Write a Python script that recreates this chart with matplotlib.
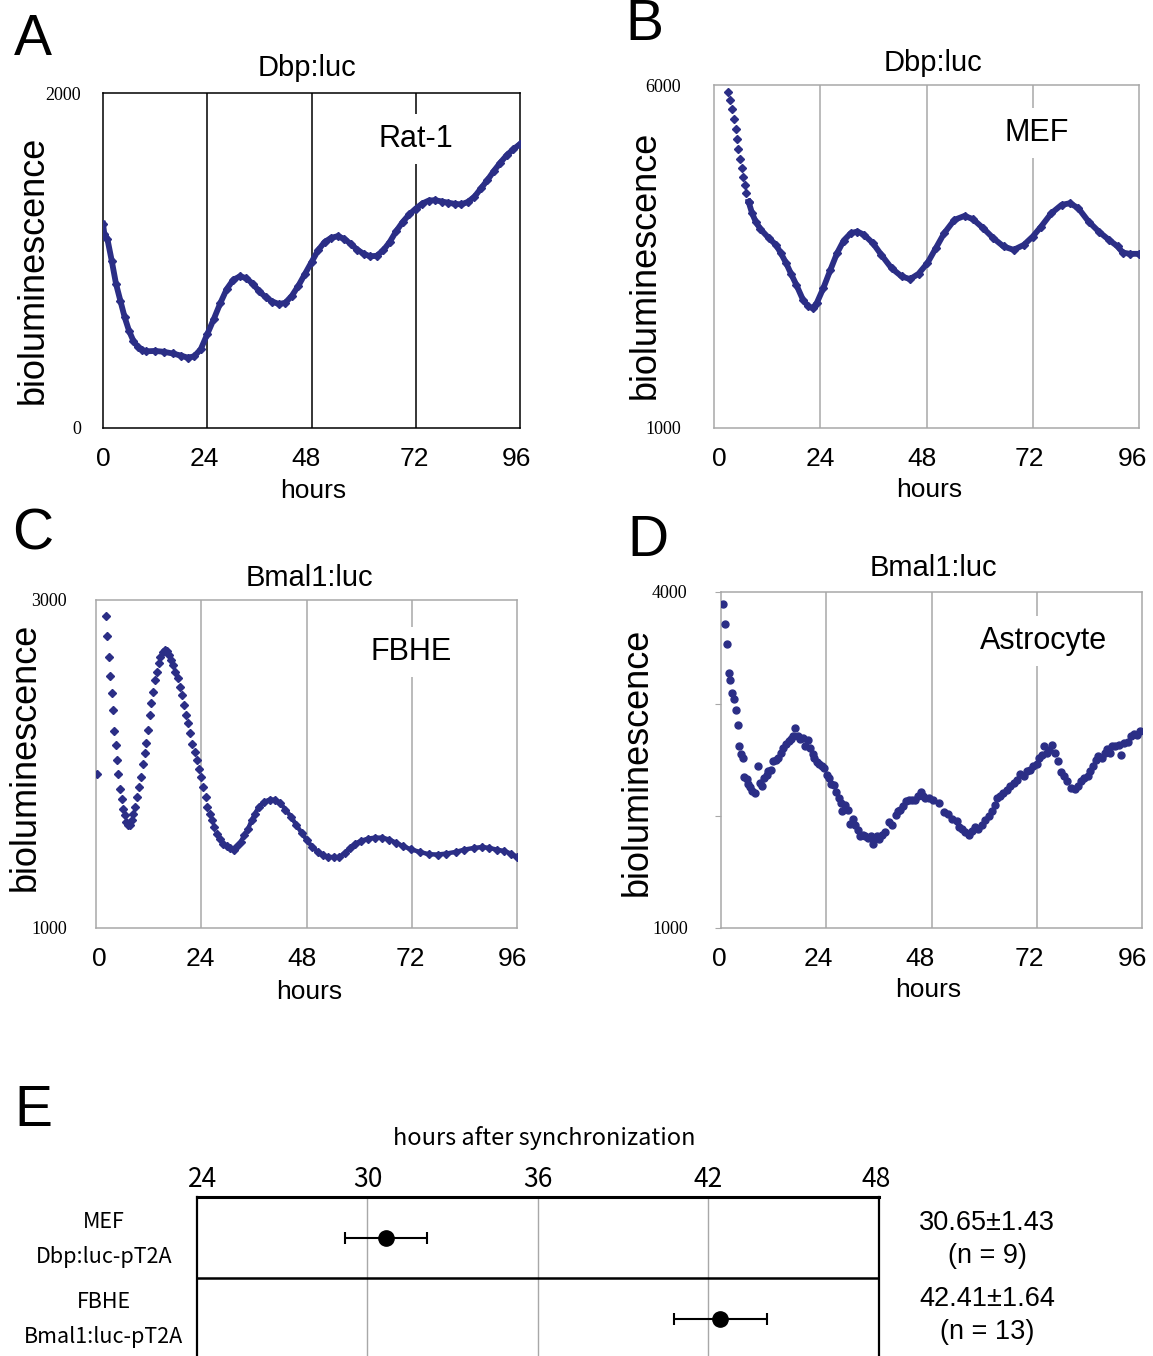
import matplotlib.pyplot as plt
from matplotlib.transforms import ScaledTranslation

# ---- data ----
# A: Dbp:luc in Rat-1
a_hours = [0, 0.3, 1, 2, 3, 4, 5, 6, 7, 8, 9, 10, 12, 14, 16, 18, 19.5, 21, 22.5, 24,
           25.5, 27, 28.5, 30, 31.5, 33, 34.5, 36, 37.5, 39, 40.5, 42, 43.5, 45, 46.5, 48,
           49.5, 51, 52.5, 54, 55.5, 57, 58.5, 60, 61.5, 63, 64.5, 66, 67.5, 69, 70.5, 72,
           73.5, 75, 76.5, 78, 79.5, 81, 82.5, 84, 85.5, 87, 88.5, 90, 91.5, 93, 94.5, 96]
a_lum = [1220, 1160, 1130, 1000, 860, 760, 660, 580, 520, 485, 465, 458, 460, 455, 445, 432,
         420, 428, 470, 560, 650, 745, 830, 885, 905, 895, 860, 815, 780, 755, 740, 748,
         790, 850, 920, 990, 1060, 1110, 1135, 1145, 1130, 1100, 1065, 1040, 1025, 1028,
         1060, 1110, 1175, 1230, 1275, 1310, 1340, 1358, 1360, 1352, 1345, 1338, 1335,
         1350, 1380, 1430, 1480, 1535, 1585, 1630, 1665, 1695]

# B: Dbp:luc in MEF
b_hours = [3.2, 3.6, 4.0, 4.5, 4.9, 5.2, 5.5, 5.9, 6.3, 6.6, 7.0, 7.3, 7.8, 8.6, 9.4, 10.5,
           12.4, 14.0, 15.1, 16.3, 17.4, 18.6, 20.1, 21.3, 22.3, 23.2, 24.7, 26.3, 27.8,
           29.3, 30.9, 32.4, 33.9, 35.9, 37.8, 40.1, 42.4, 44.3, 46.2, 48.2, 50.1, 52.0,
           54.3, 56.6, 58.5, 60.8, 63.1, 65.4, 67.7, 70.0, 72.0, 73.9, 76.2, 78.5, 80.4,
           82.3, 84.6, 86.9, 89.2, 91.2, 92.3, 93.9, 96]
b_lum = [5903, 5782, 5650, 5505, 5359, 5209, 5063, 4922, 4786, 4655, 4544, 4432, 4301, 4131,
         4010, 3898, 3767, 3670, 3549, 3403, 3248, 3087, 2869, 2772, 2748, 2820, 3039, 3306,
         3549, 3733, 3840, 3864, 3816, 3694, 3524, 3330, 3209, 3170, 3248, 3403, 3621, 3840,
         4034, 4092, 4044, 3913, 3767, 3646, 3597, 3670, 3791, 3937, 4131, 4252, 4277, 4204,
         4010, 3864, 3743, 3646, 3558, 3539, 3539]

# C: Bmal1:luc in FBHE
c_hours = [0.16, 2.2, 2.6, 3.0, 3.3, 3.6, 3.9, 4.2, 4.5, 4.7, 5.1, 5.5, 5.9, 6.2, 6.5, 6.9,
           7.3, 7.7, 8.2, 8.5, 8.8, 9.3, 9.8, 10.3, 10.7, 11.1, 11.4, 11.8, 12.2, 12.6, 13.0,
           13.5, 13.9, 14.3, 14.7, 15.2, 15.7, 16.2, 16.6, 17.1, 17.6, 18.1, 18.6, 19.1,
           19.6, 20.1, 20.6, 21.0, 21.5, 22.0, 22.5, 23.0, 23.5, 24.0, 24.5, 25.0, 25.4,
           25.9, 26.4, 26.9, 27.6, 28.2, 29.0, 29.8, 30.6, 31.4, 32.2, 33.0, 33.8, 34.7,
           35.5, 36.3, 37.1, 38.3, 39.6, 40.8, 42.0, 43.2, 44.5, 45.7, 46.9, 48.1, 49.3,
           50.6, 51.8, 53.0, 54.2, 55.5, 56.7, 57.9, 59.1, 60.4, 62.0, 63.6, 65.3, 66.9,
           68.5, 70.1, 71.8, 73.8, 75.9, 77.9, 79.9, 82.0, 84.0, 86.1, 88.1, 89.7, 91.4,
           93.0, 94.6, 96.0]
c_lum = [1942, 2904, 2780, 2654, 2534, 2432, 2327, 2202, 2113, 2023, 1938, 1848, 1789, 1728,
         1688, 1647, 1627, 1631, 1661, 1698, 1739, 1800, 1861, 1922, 2003, 2068, 2129, 2207,
         2298, 2369, 2440, 2512, 2563, 2613, 2654, 2685, 2695, 2687, 2664, 2634, 2603, 2563,
         2522, 2471, 2420, 2359, 2298, 2247, 2186, 2125, 2074, 2023, 1972, 1922, 1861, 1800,
         1739, 1698, 1657, 1617, 1576, 1545, 1515, 1498, 1488, 1478, 1498, 1525, 1566, 1606,
         1657, 1698, 1739, 1769, 1783, 1783, 1763, 1722, 1678, 1627, 1580, 1535, 1494, 1464,
         1444, 1433, 1433, 1433, 1458, 1488, 1515, 1531, 1545, 1551, 1551, 1539, 1519, 1498,
         1480, 1464, 1450, 1448, 1454, 1464, 1478, 1488, 1494, 1488, 1478, 1470, 1454, 1433]

# D: Bmal1:luc in astrocytes
d_hours = [0.53, 0.91, 1.30, 1.75, 2.13, 2.59, 2.97, 3.35, 3.81, 4.11, 4.57, 5.03, 5.33,
           5.87, 6.25, 6.70, 7.16, 7.77, 8.38, 8.91, 9.45, 9.90, 10.4, 10.8, 11.35, 11.96,
           12.5, 13.1, 13.7, 14.25, 14.8, 15.4, 16.0, 16.5, 16.9, 17.45, 18.06, 18.6, 19.2,
           19.8, 20.3, 20.9, 21.3, 21.9, 22.4, 23.0, 23.6, 24.15, 24.7, 25.1, 25.7, 26.2,
           26.8, 27.3, 27.7, 28.3, 28.95, 29.5, 30.0, 30.6, 31.2, 31.8, 32.3, 32.9, 33.5,
           34.1, 34.6, 35.0, 35.6, 36.1, 36.7, 37.5, 38.2, 39.0, 39.8, 40.4, 40.9, 41.4,
           42.1, 42.8, 43.6, 44.3, 45.0, 45.5, 46.0, 46.6, 47.4, 48.3, 49.7, 50.8, 51.8,
           52.7, 53.8, 54.2, 55.0, 55.7, 56.5, 57.2, 58.0, 58.7, 59.5, 60.3, 61.0, 61.8,
           62.4, 62.9, 63.7, 64.4, 65.2, 65.9, 66.7, 67.5, 68.2, 69.0, 69.7, 70.5, 71.2,
           72.0, 72.5, 73.1, 73.7, 74.3, 74.8, 75.4, 76.2, 76.9, 77.5, 78.3, 79.0, 79.8,
           80.7, 81.5, 82.1, 82.8, 83.6, 84.1, 84.9, 85.4, 86.0, 86.8, 87.5, 88.1, 88.7,
           89.2, 89.9, 90.7, 91.3, 91.9, 92.7, 93.4, 94.2, 94.9, 95.5]
d_lum = [3896, 3717, 3539, 3280, 3211, 3098, 3045, 2943, 2815, 2628, 2557, 2518, 2348, 2330,
         2289, 2259, 2220, 2205, 2443, 2295, 2265, 2339, 2369, 2399, 2414, 2488, 2503, 2518,
         2563, 2607, 2646, 2667, 2688, 2711, 2786, 2711, 2688, 2696, 2622, 2682, 2607, 2557,
         2518, 2479, 2467, 2443, 2429, 2369, 2339, 2289, 2280, 2211, 2161, 2116, 2042, 2101,
         2057, 1932, 1973, 1923, 1878, 1818, 1833, 1824, 1804, 1818, 1753, 1804, 1818, 1795,
         1833, 1854, 1943, 1923, 2012, 2042, 2057, 2086, 2131, 2140, 2146, 2140, 2176, 2211,
         2176, 2161, 2161, 2146, 2116, 2033, 2021, 1973, 1952, 1902, 1884, 1854, 1833, 1863,
         1902, 1884, 1923, 1967, 1997, 2042, 2101, 2161, 2182, 2205, 2235, 2265, 2295, 2324,
         2378, 2354, 2399, 2414, 2443, 2467, 2518, 2548, 2622, 2563, 2592, 2637, 2563, 2488,
         2390, 2354, 2310, 2250, 2241, 2265, 2310, 2339, 2354, 2399, 2443, 2503, 2533, 2518,
         2563, 2598, 2563, 2622, 2628, 2637, 2548, 2652, 2658, 2711, 2735, 2726, 2756]

# E: peak times after synchronization
e_rows = ["MEF\nDbp:luc-pT2A", "FBHE\nBmal1:luc-pT2A"]
e_mean = [30.65, 42.41]
e_sem = [1.43, 1.64]
e_n = [9, 13]

hour_ticks = [0, 24, 48, 72, 96]
e_ticks = [24, 30, 36, 42, 48]

NAVY = '#2b2e86'
GRAY = '#a8a8a8'
SANS = 'Liberation Sans'
SERIF = 'Liberation Serif'
JP = 'Noto Sans CJK JP'

W, H = 1153, 1356
fig = plt.figure(figsize=(W / 100, H / 100), dpi=100)


def px_axes(l, t, r, b):
    return fig.add_axes([l / W, 1 - b / H, (r - l) / W, (b - t) / H])


def ftext(x, y, s, va='center', **kw):
    fig.text(x / W, 1 - y / H, s, ha='center', va=va, **kw)


def nudge_xlabels(ax, offsets):
    # the hour labels in the original sit a few pixels off their ticks
    for lab, dx in zip(ax.get_xticklabels(), offsets):
        lab.set_transform(lab.get_transform() + ScaledTranslation(dx / 100, 0, fig.dpi_scale_trans))


def trace_panel(box, ylim, line_col, ypad, cell, cell_xy, offsets):
    ax = px_axes(*box)
    ax.set_xlim(0, 96)
    ax.set_ylim(*ylim)
    ax.set_xticks(hour_ticks)
    ax.set_xticklabels([str(h) for h in hour_ticks], fontsize=19, family=SANS)
    ax.set_yticks(list(ylim))
    ax.set_yticklabels([str(v) for v in ylim], fontsize=13, family=SERIF)
    ax.tick_params(axis='x', length=0, pad=14)
    ax.tick_params(axis='y', length=0, pad=ypad)
    for h in (24, 48, 72):
        ax.axvline(h, color=line_col, lw=1.1, zorder=0)
    for s in ax.spines.values():
        s.set_color(line_col)
        s.set_linewidth(1.1)
    ax.text(cell_xy[0], cell_xy[1], cell, transform=ax.transAxes, ha='center', va='center',
            fontsize=22, family=SANS, zorder=1,
            bbox=dict(facecolor='white', edgecolor='none', pad=7))
    nudge_xlabels(ax, offsets)
    return ax


# panel A
axA = trace_panel((103, 93, 520, 428), (0, 2000), 'black', 16, 'Rat-1', (0.75, 0.863),
                  [0, -3, -5, -1, -4])
axA.plot(a_hours, a_lum, color=NAVY, lw=4.2, marker='D', ms=4.5, zorder=3)

# panel B
axB = trace_panel((714, 85, 1139, 428), (1000, 6000), GRAY, 24, 'MEF', (0.76, 0.86),
                  [5, 0, -5, -3, -7])
axB.plot(b_hours[:13], b_lum[:13], ls='none', color=NAVY, marker='D', ms=4.5, zorder=3)
axB.plot(b_hours[12:], b_lum[12:], color=NAVY, lw=4.2, marker='D', ms=4.5, zorder=3)

# panel C
axC = trace_panel((96, 600, 517, 928), (1000, 3000), GRAY, 21, 'FBHE', (0.748, 0.841),
                  [3, -1, -4, -1, -5])
axC.plot(c_hours[60:], c_lum[60:], color=NAVY, lw=3.2, zorder=3)
axC.plot(c_hours, c_lum, ls='none', color=NAVY, marker='D', ms=4, zorder=3)

# panel D
axD = trace_panel((721, 592, 1142, 928), (1000, 4000), GRAY, 24, 'Astrocyte', (0.765, 0.854),
                  [-2, -8, -11, -7, -10])
axD.set_yticks([1000, 2000, 3000, 4000])
axD.set_yticklabels(['1000', '', '', '4000'], fontsize=13, family=SERIF)
axD.tick_params(axis='y', length=4, color=GRAY, pad=20)
axD.plot(d_hours, d_lum, ls='none', color=NAVY, marker='o', ms=5, zorder=3)

# titles, axis labels, panel letters
for x, y, s in [(307, 68, 'Dbp:luc'), (933, 63, 'Dbp:luc'),
                (309, 578, 'Bmal1:luc'), (933, 568, 'Bmal1:luc')]:
    ftext(x, y, s, fontsize=21, family=SANS)
for x, y in [(313, 491), (929, 490), (309, 992), (928, 990)]:
    ftext(x, y, 'hours', fontsize=19, family=SANS)
for x, y in [(33, 270), (645, 265), (25, 757), (637, 762)]:
    ftext(x, y, 'bioluminescence', fontsize=26, family=SANS, rotation=90)
for x, y, s in [(33, 55, 'A'), (644, 40, 'B'), (33, 549, 'C'), (648, 556, 'D'), (33, 1126, 'E')]:
    ftext(x, y, s, va='baseline', fontsize=41, family=SANS)

# panel E
axE = px_axes(197, 1197, 879, 1359)
axE.set_xlim(24, 48)
axE.set_ylim(2, 0)
axE.xaxis.tick_top()
axE.set_xticks(e_ticks)
axE.set_xticklabels([str(t) for t in e_ticks], fontsize=19, family=JP)
axE.tick_params(axis='x', length=0, pad=3)
nudge_xlabels(axE, [6, 0, 0, 0, -3])
axE.set_yticks([])
for t in e_ticks[1:-1]:
    axE.axvline(t, color=GRAY, lw=1, zorder=0)
axE.axhline(1, color='black', lw=1.8)
axE.spines['top'].set_linewidth(2.2)
axE.spines['left'].set_linewidth(1.6)
axE.spines['right'].set_linewidth(1.6)
axE.spines['bottom'].set_visible(False)
rows = [0.5, 1.5]
axE.errorbar(e_mean, rows, xerr=e_sem, fmt='o', color='black', ms=11,
             elinewidth=1.5, capsize=4.5, capthick=1.5)

ftext(544, 1138, 'hours after synchronization', fontsize=17, family=JP)
for (name, construct), yc in zip([r.split('\n') for r in e_rows], (1222, 1302)):
    ftext(104, yc, name, fontsize=15.5, family=JP)
    ftext(104, yc + 35, construct, fontsize=15.5, family=JP)
for m, s, n, yc in zip(e_mean, e_sem, e_n, (1223, 1299)):
    ftext(987, yc, f'{m:.2f}±{s:.2f}', fontsize=19.5, family=SANS)
    ftext(987, yc + 33, f'(n = {n})', fontsize=19.5, family=SANS)

fig.savefig('out.png', dpi=100)
